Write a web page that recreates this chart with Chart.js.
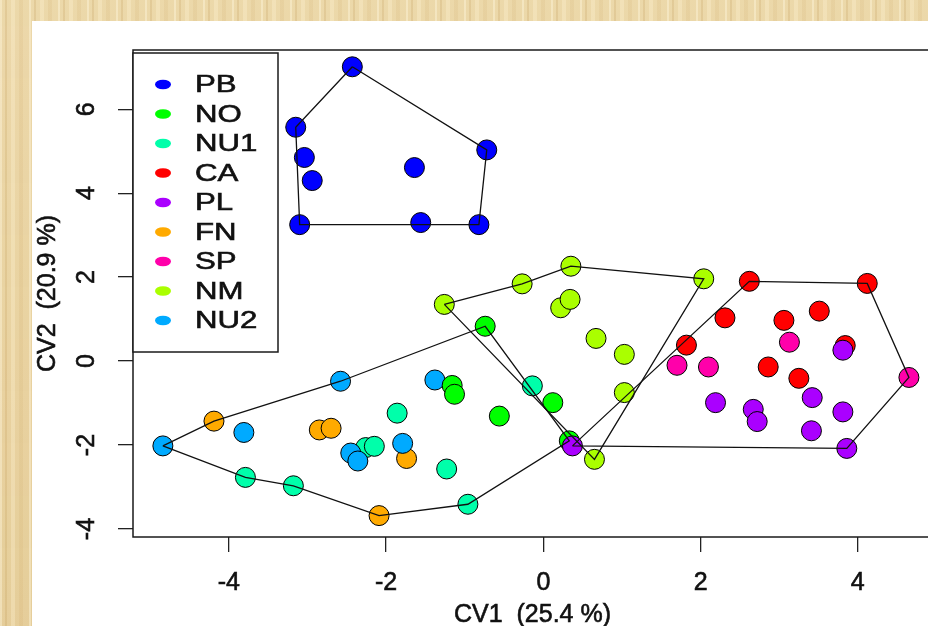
<!DOCTYPE html>
<html>
<head>
<meta charset="utf-8">
<title>CV1 / CV2</title>
<script src="https://cdn.jsdelivr.net/npm/chart.js@4.4.1/dist/chart.umd.min.js"></script>
<style>
html, body { margin: 0; padding: 0; width: 928px; height: 626px; overflow: hidden; }
body {
    background-color: #e9d3a1;
    background-image:
        repeating-linear-gradient(90deg, rgba(255,248,225,0.40) 0 2px, rgba(0,0,0,0) 2px 5px, rgba(175,130,55,0.16) 5px 7px, rgba(0,0,0,0) 7px 11px, rgba(255,245,215,0.30) 11px 15px, rgba(0,0,0,0) 15px 19px, rgba(190,145,70,0.10) 19px 23px, rgba(0,0,0,0) 23px 29px),
        linear-gradient(180deg, rgba(255,245,220,0.15), rgba(200,160,90,0.10));
}
#panel { position: absolute; left: 32px; top: 21px; width: 896px; height: 605px; background: #fff; }
#chart { position: absolute; left: 0; top: 0; }
</style>
</head>
<body>
<div id="panel"></div>
<canvas id="chart" width="960" height="626"></canvas>
<script>
// groups in legend order, colours are R's rainbow(9)
const groups = ['PB', 'NO', 'NU1', 'CA', 'PL', 'FN', 'SP', 'NM', 'NU2'];
const groupColors = ['#0000FF', '#00FF00', '#00FFAA', '#FF0000', '#AA00FF', '#FFAA00', '#FF00AA', '#AAFF00', '#00AAFF'];

// canonical variate scores
const pbX = [-2.43, -3.15, -3.04, -2.94, -1.64, -0.72, -3.10, -1.56, -0.82];
const pbY = [7.01, 5.57, 4.85, 4.30, 4.61, 5.03, 3.25, 3.30, 3.25];
const noX = [-0.74, -1.16, -1.13, -0.56, 0.12, 0.33];
const noY = [0.83, -0.58, -0.79, -1.31, -0.99, -1.90];
const nu1X = [-0.14, -1.86, -2.26, -2.15, -1.23, -3.79, -3.18, -0.96];
const nu1Y = [-0.59, -1.24, -2.06, -2.03, -2.57, -2.77, -2.97, -3.41];
const caX = [2.62, 4.12, 2.31, 3.06, 3.51, 1.82, 3.84, 2.86, 3.25];
const caY = [1.90, 1.85, 1.03, 0.97, 1.19, 0.38, 0.37, -0.14, -0.41];
const plX = [0.37, 3.81, 3.42, 2.19, 2.67, 2.72, 3.81, 3.41, 3.86];
const plY = [-2.02, 0.26, -0.87, -0.99, -1.15, -1.44, -1.21, -1.66, -2.08];
const fnX = [-4.19, -2.85, -2.70, -1.74, -2.09];
const fnY = [-1.43, -1.64, -1.60, -2.32, -3.68];
const spX = [3.13, 1.70, 2.10, 4.65];
const spY = [0.45, -0.10, -0.14, -0.39];
const nmX = [-1.26, -0.27, 0.35, 2.04, 0.22, 0.34, 0.67, 1.03, 1.03, 0.65];
const nmY = [1.35, 1.84, 2.26, 1.96, 1.27, 1.47, 0.54, 0.16, -0.75, -2.34];
const nu2X = [-2.58, -1.38, -3.81, -4.84, -2.45, -2.36, -1.79];
const nu2Y = [-0.48, -0.45, -1.70, -2.02, -2.19, -2.38, -1.96];

// hull outlines: [group, point index] in drawing order
const hullPB = [['PB', 0], ['PB', 5], ['PB', 8], ['PB', 6], ['PB', 1]];
const hullWest = [['NU2', 3], ['FN', 0], ['NU2', 0], ['NO', 0], ['NO', 5], ['NU1', 7], ['FN', 4], ['NU1', 6], ['NU1', 5]];
const hullNM = [['NM', 0], ['NM', 1], ['NM', 2], ['NM', 3], ['NM', 9]];
const hullEast = [['PL', 0], ['CA', 0], ['CA', 1], ['SP', 3], ['PL', 8]];

const xTicks = [-4, -2, 0, 2, 4];
const yTicks = [-4, -2, 0, 2, 4, 6];
const xTitle = 'CV1  (25.4 %)';
const yTitle = 'CV2  (20.9 %)';

const coords = {
    PB: [pbX, pbY], NO: [noX, noY], NU1: [nu1X, nu1Y], CA: [caX, caY], PL: [plX, plY],
    FN: [fnX, fnY], SP: [spX, spY], NM: [nmX, nmY], NU2: [nu2X, nu2Y]
};

function groupPoints(g) {
    const [xs, ys] = coords[g];
    return xs.map((x, i) => ({ x: x, y: ys[i] }));
}

function hullPoints(hull) {
    const pts = hull.map(([g, i]) => ({ x: coords[g][0][i], y: coords[g][1][i] }));
    pts.push(pts[0]);
    return pts;
}

const hullSets = [hullPB, hullWest, hullNM, hullEast].map(h => ({
    data: hullPoints(h),
    showLine: true,
    borderColor: '#111',
    borderWidth: 1.3,
    pointRadius: 0,
    pointHoverRadius: 0,
    fill: false,
    tension: 0
}));

// first dataset is drawn on top
const topToBottom = ['PB', 'NM', 'SP', 'PL', 'CA', 'NO', 'NU2', 'FN', 'NU1'];
const pointSets = topToBottom.map(g => ({
    label: g,
    data: groupPoints(g),
    backgroundColor: groupColors[groups.indexOf(g)],
    borderColor: '#000',
    borderWidth: 1,
    pointRadius: 10,
    pointHoverRadius: 10
}));

function stretchText(ctx, text, x, y, rot, sx, align) {
    ctx.save();
    ctx.translate(x, y);
    ctx.rotate(rot);
    ctx.scale(sx, 1);
    ctx.textAlign = align || 'center';
    ctx.textBaseline = 'middle';
    ctx.lineWidth = 0.6;
    ctx.strokeStyle = ctx.fillStyle;
    ctx.fillText(text, 0, 0);
    ctx.strokeText(text, 0, 0);
    ctx.restore();
}

const decor = {
    id: 'decor',
    afterDraw(chart) {
        const ctx = chart.ctx;
        const a = chart.chartArea;
        const xs = chart.scales.x;
        const ys = chart.scales.y;
        ctx.save();
        ctx.strokeStyle = '#1a1a1a';
        ctx.lineWidth = 1.5;
        ctx.strokeRect(a.left, a.top, a.right - a.left, a.bottom - a.top);

        ctx.fillStyle = '#111';
        ctx.font = '25px "Liberation Sans", Arial, sans-serif';
        xTicks.forEach(v => stretchText(ctx, String(v), xs.getPixelForValue(v), 583, 0, 1));
        yTicks.forEach(v => stretchText(ctx, String(v), 87, ys.getPixelForValue(v), -Math.PI / 2, 1));
        stretchText(ctx, xTitle, (a.left + a.right) / 2 - 3, 615, 0, 1);
        stretchText(ctx, yTitle, 48, (a.top + a.bottom) / 2, -Math.PI / 2, 1);

        // legend
        const lx = a.left, ly = a.top + 3, lw = 145, lh = 299;
        ctx.fillStyle = '#fff';
        ctx.strokeStyle = '#1a1a1a';
        ctx.lineWidth = 1.5;
        ctx.fillRect(lx, ly, lw, lh);
        ctx.strokeRect(lx, ly, lw, lh);
        ctx.font = '24px "Liberation Sans", Arial, sans-serif';
        groups.forEach((g, i) => {
            const cy = 84.5 + i * 29.5;
            ctx.fillStyle = groupColors[i];
            ctx.beginPath();
            ctx.ellipse(lx + 30, cy, 8, 4.8, 0, 0, Math.PI * 2);
            ctx.fill();
            ctx.fillStyle = '#111';
            stretchText(ctx, g, lx + 62, cy + 1, 0, 1.3, 'left');
        });
        ctx.restore();
    }
};

new Chart(document.getElementById('chart'), {
    type: 'scatter',
    data: { datasets: hullSets.concat(pointSets) },
    options: {
        responsive: false,
        animation: false,
        devicePixelRatio: 1,
        layout: { padding: { top: 50, right: 22, left: 0, bottom: 0 } },
        scales: {
            x: {
                type: 'linear',
                min: -5.22,
                max: 5.02,
                afterBuildTicks: s => { s.ticks = xTicks.map(v => ({ value: v })); },
                afterFit: s => { s.height = 89; },
                ticks: { display: false },
                border: { display: false },
                grid: { drawOnChartArea: false, drawTicks: true, tickLength: 15, color: '#222', lineWidth: 1.3 }
            },
            y: {
                type: 'linear',
                min: -4.19,
                max: 7.41,
                afterBuildTicks: s => { s.ticks = yTicks.map(v => ({ value: v })); },
                afterFit: s => { s.width = 133; },
                ticks: { display: false },
                border: { display: false },
                grid: { drawOnChartArea: false, drawTicks: true, tickLength: 15, color: '#222', lineWidth: 1.3 }
            }
        },
        plugins: {
            legend: { display: false },
            tooltip: { enabled: false }
        }
    },
    plugins: [decor]
});
</script>
</body>
</html>
